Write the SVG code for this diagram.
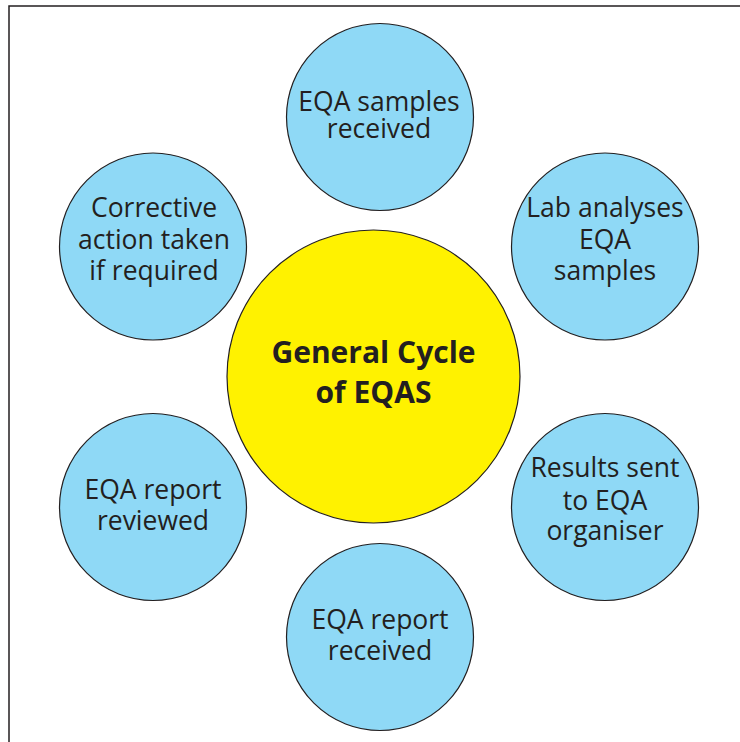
<svg xmlns="http://www.w3.org/2000/svg" width="740" height="742" viewBox="0 0 740 742">
  <style>
    .step { fill: #8fd9f6; stroke: #231f20; stroke-width: 1.2; }
    .hub { fill: #fff200; stroke: #231f20; stroke-width: 1.2; }
    .label { font-family: "Open Sans", "Noto Sans", sans-serif; font-size: 26.5px; fill: #231f20; text-anchor: middle; }
    .title { font-family: "Open Sans", "Noto Sans", sans-serif; font-size: 30px; font-weight: bold; fill: #231f20; text-anchor: middle; }
    .frame { fill: none; stroke: #231f20; stroke-width: 1.5; }
  </style>
  <rect width="740" height="742" fill="#ffffff"/>
  <!-- open frame: left and top edges only -->
  <path class="frame" d="M9,742 V6 H740"/>

  <g id="connectors"></g>

  <g id="hub">
    <circle class="hub" cx="373.5" cy="376.5" r="146.5"/>
    <text class="title" x="373.5" y="363">General Cycle</text>
    <text class="title" x="373.5" y="403">of EQAS</text>
  </g>

  <g id="samples-received">
    <circle class="step" cx="380" cy="117" r="93.5"/>
    <text class="label" x="379" y="111">EQA samples</text>
    <text class="label" x="379" y="137.5">received</text>
  </g>

  <g id="lab-analyses">
    <circle class="step" cx="605" cy="246.5" r="93.5"/>
    <text class="label" x="605" y="216.5">Lab analyses</text>
    <text class="label" x="605" y="249">EQA</text>
    <text class="label" x="605" y="279.5">samples</text>
  </g>

  <g id="results-sent">
    <circle class="step" cx="605" cy="507" r="93.5"/>
    <text class="label" x="605" y="477">Results sent</text>
    <text class="label" x="605" y="509.5">to EQA</text>
    <text class="label" x="605" y="540">organiser</text>
  </g>

  <g id="report-received">
    <circle class="step" cx="380" cy="637" r="93.5"/>
    <text class="label" x="380" y="628.5">EQA report</text>
    <text class="label" x="380" y="659.5">received</text>
  </g>

  <g id="report-reviewed">
    <circle class="step" cx="153" cy="507" r="93.5"/>
    <text class="label" x="153" y="498.5">EQA report</text>
    <text class="label" x="153" y="529.5">reviewed</text>
  </g>

  <g id="corrective-action">
    <circle class="step" cx="153" cy="246.5" r="93.5"/>
    <text class="label" x="154" y="216.5">Corrective</text>
    <text class="label" x="154" y="248.5">action taken</text>
    <text class="label" x="154" y="279.5">if required</text>
  </g>
</svg>
